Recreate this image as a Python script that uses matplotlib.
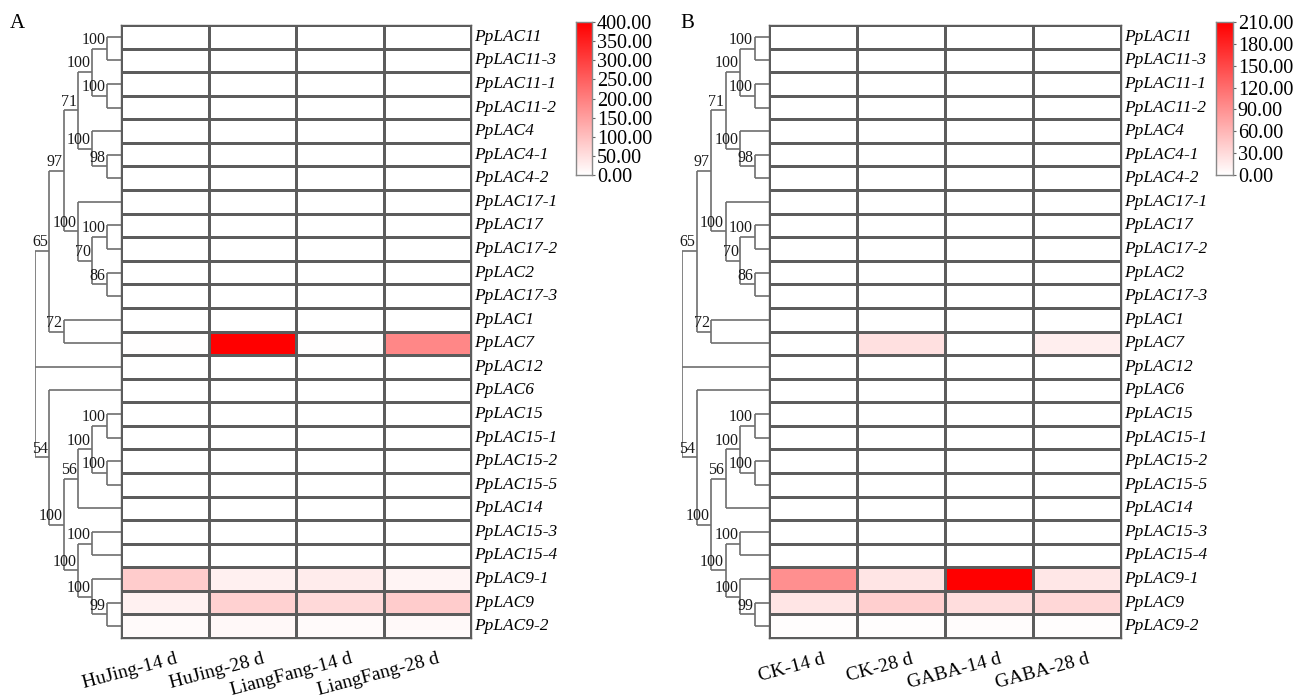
import numpy as np
import matplotlib
matplotlib.use("Agg")
import matplotlib.pyplot as plt
from matplotlib.colors import LinearSegmentedColormap

plt.rcParams["font.family"] = ["Liberation Serif", "DejaVu Serif"]

# row order of the heatmaps (top to bottom)
genes = ["PpLAC11", "PpLAC11-3", "PpLAC11-1", "PpLAC11-2", "PpLAC4", "PpLAC4-1",
         "PpLAC4-2", "PpLAC17-1", "PpLAC17", "PpLAC17-2", "PpLAC2", "PpLAC17-3",
         "PpLAC1", "PpLAC7", "PpLAC12", "PpLAC6", "PpLAC15", "PpLAC15-1",
         "PpLAC15-2", "PpLAC15-5", "PpLAC14", "PpLAC15-3", "PpLAC15-4",
         "PpLAC9-1", "PpLAC9", "PpLAC9-2"]

# bootstrap tree: (label, [children]), leaves are gene names
tree = ("", [
    ("65", [
        ("97", [
            ("71", [
                ("100", [("100", ["PpLAC11", "PpLAC11-3"]),
                         ("100", ["PpLAC11-1", "PpLAC11-2"])]),
                ("100", ["PpLAC4", ("98", ["PpLAC4-1", "PpLAC4-2"])]),
            ]),
            ("100", ["PpLAC17-1",
                     ("70", [("100", ["PpLAC17", "PpLAC17-2"]),
                             ("86", ["PpLAC2", "PpLAC17-3"])])]),
        ]),
        ("72", ["PpLAC1", "PpLAC7"]),
    ]),
    "PpLAC12",
    ("54", ["PpLAC6",
            ("100", [
                ("56", [("100", [("100", ["PpLAC15", "PpLAC15-1"]),
                                 ("100", ["PpLAC15-2", "PpLAC15-5"])]),
                        "PpLAC14"]),
                ("100", [("100", ["PpLAC15-3", "PpLAC15-4"]),
                         ("100", ["PpLAC9-1", ("99", ["PpLAC9", "PpLAC9-2"])])]),
            ])]),
])

# panel A: cultivars
cols_a = ["HuJing-14 d", "HuJing-28 d", "LiangFang-14 d", "LiangFang-28 d"]
hujing_14 = [0.5, 0.5, 0.5, 0.5, 0.5, 0.5, 0.5, 0.5, 0.5, 0.5, 0.5, 0.5, 0.5,
             2, 0.5, 0.5, 0.5, 0.5, 0.5, 0.5, 0.5, 0.5, 0.5, 80, 22, 8]
hujing_28 = [0.5, 0.5, 0.5, 0.5, 0.5, 0.5, 0.5, 0.5, 0.5, 0.5, 0.5, 0.5, 0.5,
             400, 0.5, 0.5, 0.5, 0.5, 0.5, 0.5, 0.5, 0.5, 0.5, 24, 72, 12]
liangfang_14 = [0.5, 0.5, 0.5, 0.5, 0.5, 0.5, 0.5, 0.5, 0.5, 0.5, 0.5, 0.5, 0.5,
                2, 0.5, 0.5, 0.5, 0.5, 0.5, 0.5, 0.5, 0.5, 0.5, 30, 60, 8]
liangfang_28 = [0.5, 0.5, 0.5, 0.5, 0.5, 0.5, 0.5, 0.5, 0.5, 0.5, 0.5, 0.5, 0.5,
                188, 0.5, 0.5, 0.5, 0.5, 0.5, 0.5, 0.5, 0.5, 0.5, 18, 80, 10]

# panel B: GABA treatment
cols_b = ["CK-14 d", "CK-28 d", "GABA-14 d", "GABA-28 d"]
ck_14 = [0.3, 0.3, 0.3, 0.3, 0.3, 0.3, 0.3, 0.3, 0.3, 0.3, 0.3, 0.3, 0.3,
         0.5, 0.3, 0.3, 0.3, 0.3, 0.3, 0.3, 0.3, 0.3, 0.3, 92, 22, 2]
ck_28 = [0.3, 0.3, 0.3, 0.3, 0.3, 0.3, 0.3, 0.3, 0.3, 0.3, 0.3, 0.3, 0.3,
         26, 0.3, 0.3, 0.3, 0.3, 0.3, 0.3, 0.3, 0.3, 0.3, 22, 40, 2]
gaba_14 = [0.3, 0.3, 0.3, 0.3, 0.3, 0.3, 0.3, 0.3, 0.3, 0.3, 0.3, 0.3, 0.3,
           0.5, 0.3, 0.3, 0.3, 0.3, 0.3, 0.3, 0.3, 0.3, 0.3, 210, 28, 3]
gaba_28 = [0.3, 0.3, 0.3, 0.3, 0.3, 0.3, 0.3, 0.3, 0.3, 0.3, 0.3, 0.3, 0.3,
           14, 0.3, 0.3, 0.3, 0.3, 0.3, 0.3, 0.3, 0.3, 0.3, 20, 33, 2]

ticks_a = [0, 50, 100, 150, 200, 250, 300, 350, 400]
ticks_b = [0, 30, 60, 90, 120, 150, 180, 210]

W, H = 1304, 698
cmap = LinearSegmentedColormap.from_list("wr", ["#ffffff", "#ff0000"])
GRID = "#5c5c5c"
TREE = "#6e6e6e"


def px_axes(fig, x0, y0, x1, y1):
    # axes from pixel box (top-left origin)
    return fig.add_axes([x0 / W, 1 - y1 / H, (x1 - x0) / W, (y1 - y0) / H])


def draw_node(ax, node, depth):
    # returns y of node, draws lines left of the leaves (x = depth, leaves at 6)
    if isinstance(node, str):
        return genes.index(node) + 0.5
    label, kids = node
    ys = []
    for k in kids:
        y = draw_node(ax, k, depth + 1)
        kx = 6 if isinstance(k, str) else depth + 1
        ax.plot([depth, kx], [y, y], color=TREE, lw=1.2, solid_capstyle="butt")
        ys.append(y)
    ax.plot([depth, depth], [min(ys), max(ys)], color=TREE, lw=1.2,
            solid_capstyle="butt")
    ymid = (min(ys) + max(ys)) / 2
    if label:
        ax.annotate(label, (depth, ymid), xytext=(-1, 0.5),
                    textcoords="offset points", ha="right", va="bottom",
                    fontsize=11.5, color="#1a1a1a")
    return ymid


def panel(fig, letter, lx, hx0, hx1, cbx0, cbx1, data, cols, vmax, ticks):
    top, bot = 25, 638

    ax = px_axes(fig, hx0, top, hx1, bot)
    mat = np.array(data).T
    ax.pcolormesh(np.arange(5), np.arange(27), mat, cmap=cmap, vmin=0, vmax=vmax,
                  edgecolors=GRID, linewidth=0.8)
    ax.set_xlim(0, 4)
    ax.set_ylim(26, 0)
    ax.set_xticks([])
    ax.set_yticks([])
    for s in ax.spines.values():
        s.set_color(GRID)
        s.set_linewidth(1.0)
    for i, g in enumerate(genes):
        ax.annotate(g, (4, i + 0.5), xytext=(2.5, 0), textcoords="offset points",
                    ha="left", va="center", fontsize=12.5, style="italic",
                    annotation_clip=False)
    for j, c in enumerate(cols):
        ax.annotate(c, (j + 0.5, 0), xycoords=("data", "axes fraction"),
                    xytext=(7, -9), textcoords="offset points", ha="right",
                    va="top", rotation=15, rotation_mode="anchor", fontsize=14,
                    annotation_clip=False)

    dax = px_axes(fig, lx, top, hx0, bot)
    dax.set_xlim(0, 6)
    dax.set_ylim(26, 0)
    dax.axis("off")
    draw_node(dax, tree, 0)

    cax = px_axes(fig, cbx0, 22, cbx1, 175)
    grad = np.linspace(0, vmax, 256).reshape(-1, 1)
    cax.imshow(grad, aspect="auto", cmap=cmap, origin="lower",
               extent=[0, 1, 0, vmax], vmin=0, vmax=vmax)
    cax.set_xticks([])
    cax.yaxis.tick_right()
    cax.set_yticks(ticks)
    cax.set_yticklabels([f"{t:.2f}" for t in ticks], fontsize=14.5)
    cax.tick_params(axis="y", length=2.5, width=0.8, color="#666666", pad=1)
    for s in cax.spines.values():
        s.set_color("#888888")
        s.set_linewidth(1.0)

    fig.text((lx - 25 if letter == "A" else lx - 2) / W, 1 - 28 / H, letter,
             fontsize=15, ha="left", va="baseline")


fig = plt.figure(figsize=(W / 100, H / 100), dpi=100)
fig.patch.set_facecolor("white")

panel(fig, "A", 35, 121, 471, 576, 592,
      [hujing_14, hujing_28, liangfang_14, liangfang_28], cols_a, 400, ticks_a)
panel(fig, "B", 682, 769, 1121, 1216, 1233,
      [ck_14, ck_28, gaba_14, gaba_28], cols_b, 210, ticks_b)

fig.savefig("out.png", dpi=100, facecolor="white")
